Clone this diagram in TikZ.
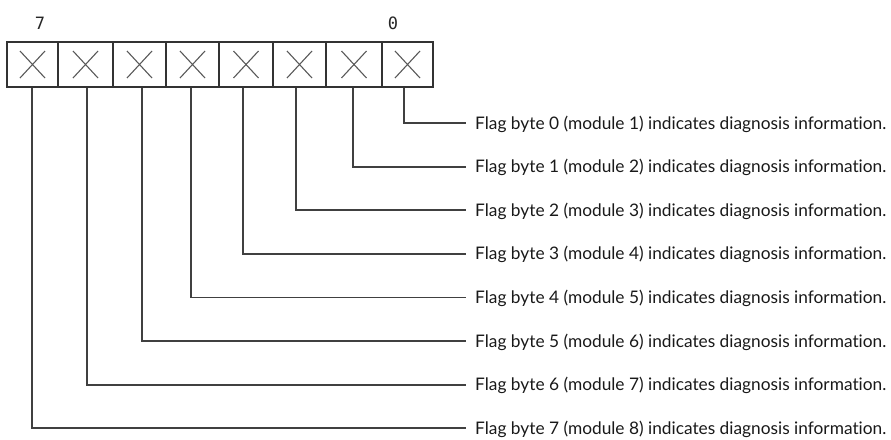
\documentclass[tikz,border=0pt]{standalone}
\usepackage{fontspec}
\setmainfont{Lato}[Ligatures={NoCommon}]
\newfontfamily\digitfont{DejaVu Sans Mono}
\begin{document}
\begin{tikzpicture}[x=1pt,y=-1pt,
  bitbox/.style={draw=black!80, line width=1.4pt, inner sep=0pt, minimum height=45pt},
  crossline/.style={draw=black!65, line width=1.1pt},
  lead/.style={draw=black!75, line width=1.8pt},
  desc/.style={anchor=west, inner sep=0pt, font=\fontsize{17.3}{19}\selectfont, text=black!90},
  bitnum/.style={font=\digitfont\fontsize{17}{19}\selectfont, text=black!85, inner sep=0pt}]
\useasboundingbox (0,0) rectangle (891,439);
% boxes: index/left/right (index = bit number)
\foreach \i/\l/\r in {7/7/58,6/58/113,5/113/166,4/166/219,3/219/273,2/273/326,1/326/382,0/382/433}{
  \node[bitbox, minimum width={(\r-\l)*1pt}] (b\i) at ({(\l+\r)/2},64.5) {};
  \draw[crossline] ([shift={(-12.5,-13.5)}]b\i.center) -- ([shift={(12.5,13.5)}]b\i.center);
  \draw[crossline] ([shift={(-12.5,13.5)}]b\i.center) -- ([shift={(12.5,-13.5)}]b\i.center);
}
\node[bitnum] (n7) at (40,23) {7};
\node[bitnum] (n0) at (393,23) {0};
% labels
\foreach \i/\m in {0/1,1/2,2/3,3/4,4/5,5/6,6/7,7/8}{
  \node[desc] (t\i) at (475,{124+\i*43.6}) {Flag byte \i\ (module \m) indicates diagnosis information.};
  \coordinate (e\i) at (466,{123+\i*43.6});
}
% leads
\foreach \i/\x in {0/404,1/353,2/296,3/243,4/191,5/142,6/87,7/32}{
  \draw[lead] (b\i.south -| \x,0) |- (e\i);
}
\end{tikzpicture}
\end{document}
